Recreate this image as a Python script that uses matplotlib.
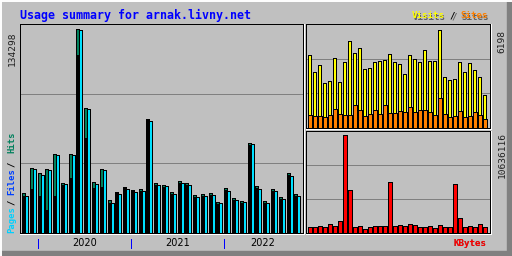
import matplotlib
matplotlib.use('Agg')
import matplotlib.pyplot as plt
from matplotlib.transforms import Affine2D, blended_transform_factory
from matplotlib.patches import Rectangle
from matplotlib.lines import Line2D
import numpy as np
import pandas as pd

# monthly summary, Nov 2019 .. Oct 2022
months = pd.period_range('2019-11', periods=36, freq='M')

hits = [26332, 42987, 39498, 42329, 52006, 33112, 52006, 134298, 82288, 33573,
        42329, 21921, 27188, 30479, 28504, 29163, 75244, 33112, 31796, 27188,
        34429, 33112, 25213, 25871, 26529, 20605, 29821, 23238, 21263, 59444,
        31137, 21263, 29163, 23896, 39695, 25871]
files = [24094, 28965, 24094, 15338, 24094, 31796, 36207, 117375, 62539, 29624,
         30677, 19749, 26332, 29624, 28044, 28044, 74585, 31796, 30479, 25871,
         33112, 31796, 23896, 24555, 25213, 19288, 28504, 21921, 19946, 58128,
         29821, 19946, 27846, 22580, 38379, 24555]
pages = [24555, 42131, 38379, 41473, 51347, 32257, 51347, 133635, 81629, 32454,
         41473, 19946, 25871, 29163, 27385, 27846, 73927, 31796, 31137, 25871,
         33112, 31796, 23896, 24555, 25213, 19946, 27846, 21921, 20605, 58786,
         29163, 19946, 27846, 22580, 37918, 24555]
visits = [4575, 3502, 3944, 2808, 2934, 4386, 2871, 4133, 5458, 4701,
          5016, 3691, 3754, 4133, 4196, 4259, 4638, 4133, 4007, 3376,
          4575, 4322, 4133, 4890, 4196, 4196, 6198, 3187, 2997, 3060,
          4133, 3502, 4070, 3628, 3187, 2051]
sites = [789, 726, 726, 663, 789, 1167, 852, 789, 789, 1420,
         1104, 726, 852, 1104, 852, 1420, 915, 915, 1041, 978,
         1294, 978, 1104, 1104, 978, 789, 1861, 852, 663, 726,
         1041, 663, 726, 978, 789, 536]
kbytes = [683750, 683750, 792280, 683750, 1009350, 792280, 1334940, 10636116, 4699440, 683750,
          792280, 466690, 683750, 792280, 792280, 792280, 5567690, 792280, 900820, 792280,
          1009350, 900820, 683750, 683750, 792280, 575220, 900820, 683750, 683750, 5350630,
          1660540, 683750, 792280, 683750, 1009350, 683750]

W, H = 512, 256
BG = '#c0c0c0'
LW = 0.72  # one pixel

fig = plt.figure(figsize=(W / 100, H / 100), dpi=100, facecolor=BG)
px = Affine2D().scale(1, -1).translate(0, H)  # pixel coords, y down


def add_ax(l, t, r, b):
    ax = fig.add_axes([l / W, (H - b) / H, (r - l) / W, (b - t) / H])
    ax.set_facecolor(BG)
    ax.set_xticks([])
    ax.set_yticks([])
    for s in ax.spines.values():
        s.set_color('black')
        s.set_linewidth(LW)
    # white inset edge on the right and bottom
    fig.add_artist(Line2D([l, r + 1], [b + 1, b + 1], transform=px, color='white', lw=LW))
    fig.add_artist(Line2D([r + 1, r + 1], [t, b + 1], transform=px, color='white', lw=LW))
    return ax


def grid(ax, top):
    for k in (1, 2):
        ax.axhline(top * k / 3, color='#808080', lw=LW, zorder=0.5)


def stext(x, y, s, color, **kw):
    fig.text(x + 1, y + 1, s, color='#606060', transform=px, **kw)
    fig.text(x, y, s, color=color, transform=px, **kw)


bar_kw = dict(align='edge', edgecolor='black', linewidth=LW, antialiased=False, zorder=2)
x = np.arange(len(months))

# main chart: hits / files / pages
ax = add_ax(20, 24, 303, 233)
bw = 3 / 7.78
ax.bar(x, hits, width=bw, color='#00805c', **bar_kw)
ax.bar(x, files, width=bw, color='black', **bar_kw)
ax.bar(x + bw, pages, width=bw, color='#00e0ff', **bar_kw)
ytop = max(hits) * 1.027
grid(ax, ytop)
ax.set_xlim(-0.257, -0.257 + 283 / 7.78)
ax.set_ylim(0, ytop)

# year ticks and labels
tr = blended_transform_factory(ax.transData, px)
jan = [i for i, m in enumerate(months) if m.month == 1]
edges = jan + [len(months)]
for i in jan:
    fig.add_artist(Line2D([i, i], [239, 248], transform=tr, color='#0000ff', lw=LW,
                          antialiased=False))
for a, b in zip(edges[:-1], edges[1:]):
    fig.text((a + b) / 2, 243, str(months[a].year), transform=tr, ha='center', va='center',
             fontsize=7, family='DejaVu Sans', color='black')

# visits / sites
ax2 = add_ax(306, 24, 490, 128)
ax2.bar(x, visits, width=0.5, color='#ffff00', **bar_kw)
ax2.bar(x, sites, width=0.8, color='#ff8000', **bar_kw)
v_top = max(visits) * 1.056
grid(ax2, v_top)
ax2.set_xlim(-0.4, -0.4 + 184 / 5)
ax2.set_ylim(0, v_top)

# kbytes
ax3 = add_ax(306, 131, 490, 233)
ax3.bar(x, kbytes, width=0.8, color='#ff0000', **bar_kw)
k_top = max(kbytes) * 1.04
grid(ax3, k_top)
ax3.set_xlim(-0.4, -0.4 + 184 / 5)
ax3.set_ylim(0, k_top)

# outer 3D frame
fig.add_artist(Line2D([0, W], [0.5, 0.5], transform=px, color='white', lw=1.4))
fig.add_artist(Line2D([0.5, 0.5], [0, H], transform=px, color='white', lw=1.4))
fig.add_artist(Rectangle((507, 0), 5, H, transform=px, color='#808080'))
fig.add_artist(Rectangle((0, 251), W, 5, transform=px, color='#808080'))

# texts
mono = 'DejaVu Sans Mono'
fig.text(20, 15, 'Usage summary for arnak.livny.net', transform=px, color='#0000ff',
         family=mono, weight='bold', fontsize=8.4, va='center', ha='left')

leg = dict(family=mono, fontsize=6.6, weight='bold', va='center')
stext(412, 16, 'Visits', '#ffff00', **leg)
stext(450, 16, '/', 'black', **leg)
stext(460, 16, 'Sites', '#ff8000', **leg)
stext(453, 243, 'KBytes', '#ff0000', **leg)

rot = dict(transform=px, family=mono, fontsize=6.4, weight='bold', rotation=90,
           rotation_mode='anchor', ha='left', va='center')
fig.text(12, 233, 'Pages', color='#00d0ff', **rot)
fig.text(12, 205, '/', color='black', **rot)
fig.text(12, 195, 'Files', color='#0040ff', **rot)
fig.text(12, 167, '/', color='black', **rot)
fig.text(12, 153, 'Hits', color='#00805c', **rot)

num = dict(family=mono, fontsize=6.8, rotation=90, rotation_mode='anchor', ha='right',
           va='center', color='#202020')
fig.text(12, 31, str(max(hits)), transform=px, **num)
fig.text(502, 30, str(max(visits)), transform=px, **num)
fig.text(502, 132, str(max(kbytes)), transform=px, **num)

fig.savefig('out.png', dpi=100, facecolor=BG)
